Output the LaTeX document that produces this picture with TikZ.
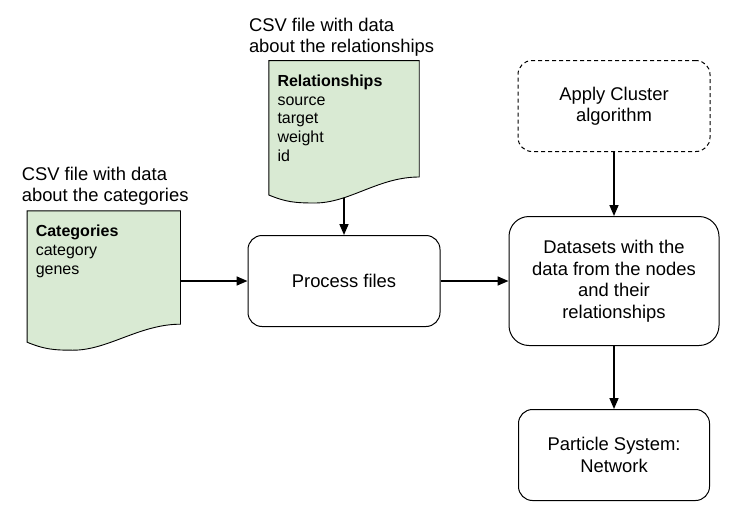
\documentclass[tikz,border=0pt]{standalone}
\usepackage{fontspec}
\setmainfont{Liberation Sans}
\usetikzlibrary{positioning,arrows.meta,calc}

\definecolor{csvgreen}{HTML}{D9EAD3}
\newcommand{\boxfont}{\fontsize{18.4}{21.5}\selectfont}
\newcommand{\fieldfont}{\fontsize{16}{18.8}\selectfont}

% document shape with a wavy bottom edge
\newcommand{\csvdoc}[1]{%
  \draw[csv] (#1.north west) -- (#1.north east) -- (#1.south east)
    .. controls +(-41,0) and +(35,0) .. ($(#1.south west)+(46,26)$)
    .. controls +(-20,0) and +(17,7) .. ($(#1.south west)+(0,18)$) -- cycle;}

\begin{document}
\begin{tikzpicture}[x=1pt, y=-1pt,
    box/.style={draw, line width=1pt, rounded corners=14pt, align=center, inner sep=0pt,
      minimum width=192pt, minimum height=91pt, font=\boxfont},
    csv/.style={draw, fill=csvgreen, line width=0.9pt},
    note/.style={align=left, inner sep=0pt, font=\boxfont},
    field/.style={align=left, inner sep=0pt, font=\fieldfont},
    flow/.style={-{Triangle[length=11pt, width=9pt]}, line width=1.6pt}]

	\useasboundingbox (0,0) rectangle (742,522);

	\node[box] (proc) at (344,281) {Process files};
	\node[box, right=68pt of proc, minimum width=210pt, minimum height=129pt, rounded corners=20pt] (data) {Datasets with the\\data from the nodes\\and their\\relationships};
	\node[box, above=64pt of data, dash pattern=on 4pt off 3pt] (clust) {Apply Cluster\\algorithm};
	\node[box, below=63pt of data, minimum width=191pt] (part) {Particle System:\\Network};

	\node[inner sep=0pt, minimum width=153pt, minimum height=113pt, left=67pt of proc, yshift=13.5pt] (cat) {};
	\node[inner sep=0pt, minimum width=150pt, minimum height=116pt, above=58pt of proc] (rel) {};

	\draw[flow] (cat.east |- proc) -- (proc);
	\draw[flow] (rel.south) -- (proc);
	\draw[flow] (proc) -- (data);
	\draw[flow] (clust) -- (data);
	\draw[flow] (data) -- (part);

	% documents drawn over the arrow tails
	\csvdoc{cat}
	\csvdoc{rel}

	\node[field, below right=14pt and 8.5pt of cat.north west] (catfields) {\textbf{Categories}\\category\\genes};
	\node[field, below right=14pt and 8.5pt of rel.north west] (relfields) {\textbf{Relationships}\\source\\target\\weight\\id};

	\node[note, above right=5pt and -5.5pt of cat.north west] (catnote) {CSV file with data\\about the categories};
	\node[note, above right=4pt and -20pt of rel.north west] (relnote) {CSV file with data\\about the relationships};
\end{tikzpicture}
\end{document}
